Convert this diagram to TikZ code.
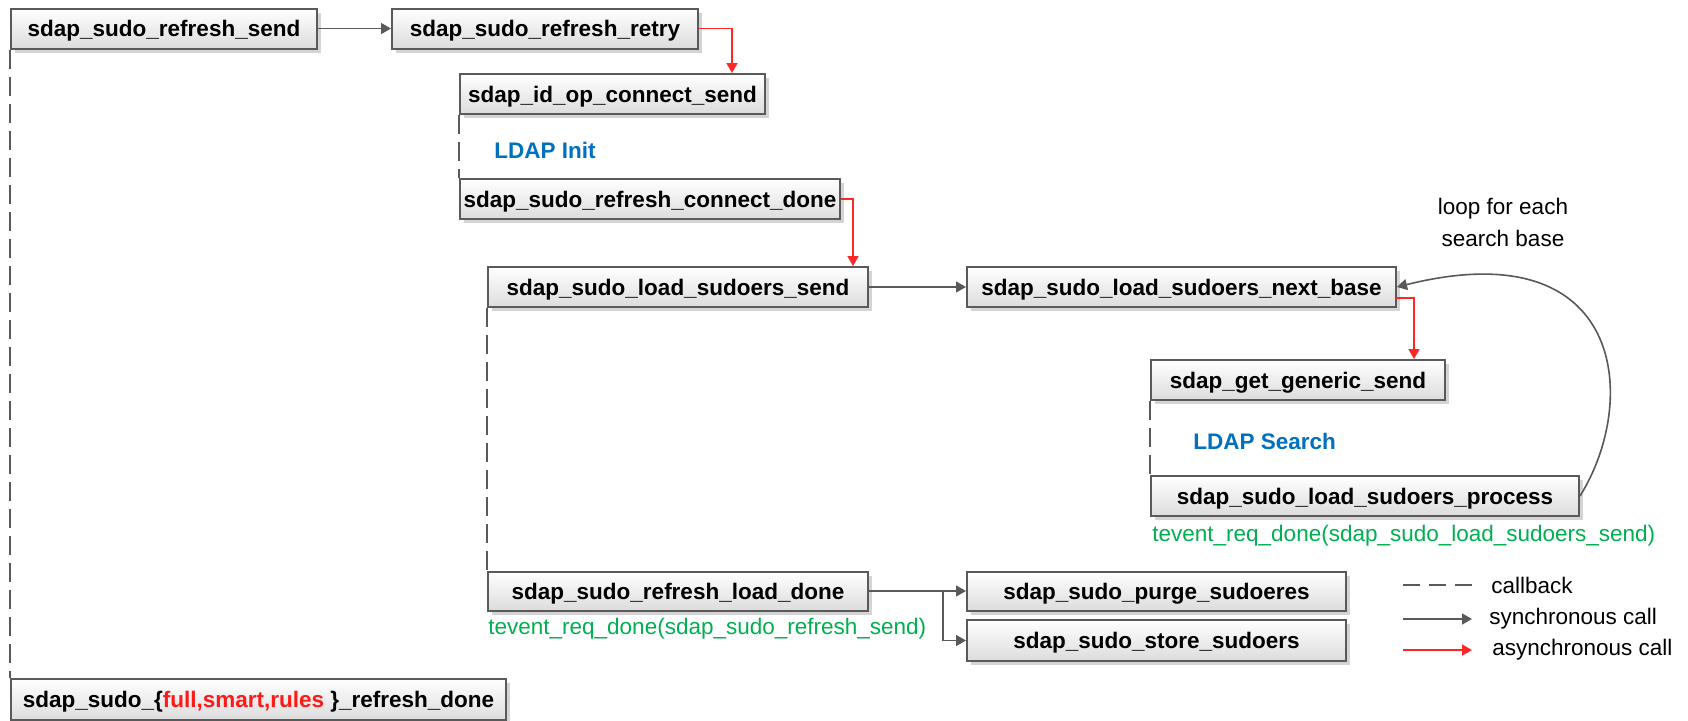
\documentclass[tikz,border=0pt]{standalone}
\usepackage{fontspec}
\setmainfont{Liberation Sans}
\usetikzlibrary{arrows.meta,shadows,calc}
\definecolor{lgray}{HTML}{595959}
\definecolor{boxc}{HTML}{5A5A5A}
\definecolor{boxbot}{HTML}{DCDCDC}
\definecolor{shadc}{HTML}{D4D4D4}
\definecolor{redc}{HTML}{FF2626}
\definecolor{redt}{HTML}{FF1A1A}
\definecolor{bluet}{HTML}{0070C0}
\definecolor{greent}{HTML}{00B050}
\begin{document}
\begin{tikzpicture}[x=0.5pt,y=-0.5pt,
  fb/.style={draw=boxc, line width=1pt, top color=white, bottom color=boxbot,
    drop shadow={shadow xshift=2pt,shadow yshift=-2pt,fill=shadc,opacity=1},
    minimum height=20pt, inner sep=0pt, text depth=0pt, font=\bfseries\fontsize{11.25}{13}\selectfont},
  sync/.style={draw=lgray, line width=0.8pt, -{Triangle[length=5pt,width=5.5pt]}},
  async/.style={draw=redc, line width=0.8pt, -{Triangle[length=5pt,width=5.5pt]}},
  cb/.style={draw=lgray, line width=1pt, dash pattern=on 9.5pt off 4pt},
  lbl/.style={font=\fontsize{11.25}{16}\selectfont, inner sep=0pt},
  blbl/.style={font=\bfseries\fontsize{11.25}{16}\selectfont, inner sep=0pt, text=bluet},
  glbl/.style={font=\fontsize{11.25}{16}\selectfont, inner sep=0pt, text=greent},
]
\useasboundingbox (0,0) rectangle (1688,720);
\fill[white] (0,0) rectangle (1688,720);

% boxes
\node[fb, minimum width=153pt] (A) at (164,28.5) {sdap\_sudo\_refresh\_send};
\node[fb, minimum width=153pt] (B) at (545,28.5) {sdap\_sudo\_refresh\_retry};
\node[fb, minimum width=152.5pt] (C) at (612.5,94) {sdap\_id\_op\_connect\_send};
\node[fb, minimum width=190pt] (D) at (650,199) {sdap\_sudo\_refresh\_connect\_done};
\node[fb, minimum width=190pt] (E) at (678,287) {sdap\_sudo\_load\_sudoers\_send};
\node[fb, minimum width=214.5pt] (F) at (1181.5,287) {sdap\_sudo\_load\_sudoers\_next\_base};
\node[fb, minimum width=147pt] (G) at (1298,380) {sdap\_get\_generic\_send};
\node[fb, minimum width=214pt] (H) at (1365,496) {sdap\_sudo\_load\_sudoers\_process};
\node[fb, minimum width=190pt, minimum height=19.5pt] (I) at (678,591) {sdap\_sudo\_refresh\_load\_done};
\node[fb, minimum width=189.5pt, minimum height=19.5pt] (J) at (1156.5,591) {sdap\_sudo\_purge\_sudoeres};
\node[fb, minimum width=189.5pt, minimum height=20.5pt] (K) at (1156.5,640.5) {sdap\_sudo\_store\_sudoers};
\node[fb, minimum width=247.5pt, minimum height=20.5pt] (L) at (258.5,699.5) {sdap\_sudo\_\{\textcolor{redt}{full,smart,rules} \}\_refresh\_done};

% labels
\node[blbl, anchor=west] (li) at (494,150) {LDAP Init};
\node[blbl, anchor=west] (ls) at (1193,441) {LDAP Search};
\node[lbl, align=center] (loop) at (1503,222) {loop for each\\search base};
\node[glbl, anchor=west] (g1) at (1152,536) {tevent\_req\_done(sdap\_sudo\_load\_sudoers\_send)};
\node[glbl, anchor=west] (g2) at (488,629) {tevent\_req\_done(sdap\_sudo\_refresh\_send)};

% callbacks
\draw[cb] (A.south west) -- (A.south west |- L.north);
\draw[cb] (C.south west) -- (C.south west |- D.north);
\draw[cb] (E.south west) -- (E.south west |- I.north);
\draw[cb] (G.south west) -- (G.south west |- H.north);

% helper coordinates
\coordinate (xr1) at (732,0);
\coordinate (xr2) at (853,0);
\coordinate (xr3) at (1414,0);
\coordinate (xb) at (943,0);
\coordinate (fr) at (1396,298);

% synchronous
\draw[sync] (A.east) -- (B.west);
\draw[sync] (E.east) -- (F.west);
\draw[sync] (I.east) -- (J.west);
\draw[sync] (I.east -| xb) |- (K.west);
\draw[sync] (H.east) .. controls (1640,400) and (1625,230) .. (F.east);

% asynchronous
\draw[async] (B.east) -| (C.north -| xr1);
\draw[async] (D.east) -| (E.north -| xr2);
\draw[async] (fr) -| (G.north -| xr3);

% legend
\coordinate (l1a) at (1403,585); \coordinate (l1b) at (1472,585);
\coordinate (l2a) at (1403,619); \coordinate (l2b) at (1472,619);
\coordinate (l3a) at (1403,650); \coordinate (l3b) at (1472,650);
\draw[draw=lgray, line width=1pt, dash pattern=on 8.5pt off 4.5pt] (l1a) -- (l1b);
\draw[sync] (l2a) -- (l2b);
\draw[async] (l3a) -- (l3b);
\node[lbl, anchor=west] (t1) at (1491,585) {callback};
\node[lbl, anchor=west] (t2) at (1489,619) {synchronous call};
\node[lbl, anchor=west] (t3) at (1492,650) {asynchronous call};
\end{tikzpicture}
\end{document}
